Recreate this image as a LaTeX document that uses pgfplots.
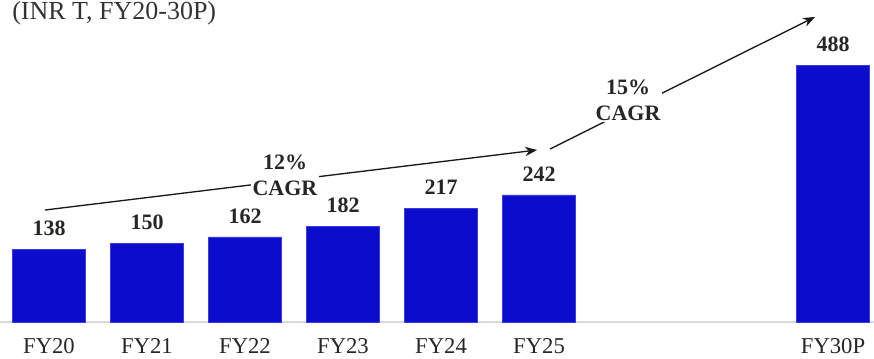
\documentclass[border=0pt]{standalone}
\usepackage{fontspec}
\setmainfont{Liberation Serif}
\usepackage{pgfplots}
\pgfplotsset{compat=1.18}
\usetikzlibrary{arrows.meta}
\definecolor{barblue}{RGB}{12,12,204}
\definecolor{baredge}{RGB}{60,60,225}
\definecolor{axisgray}{RGB}{218,218,218}
\begin{document}
\begin{tikzpicture}
\useasboundingbox (0,-27pt) rectangle (655.5pt,241.5pt);
\begin{axis}[
  at={(0,0)}, anchor=south west,
  scale only axis, width=655.5pt, height=241.5pt,
  xmin=-0.5, xmax=8.418, ymin=0, ymax=613.3,
  clip=false,
  ybar, bar width=54.75pt,
  axis y line=none,
  axis x line*=bottom,
  x axis line style={draw=axisgray, line width=1pt, -},
  major tick length=0pt,
  xtick={0,1,2,3,4,5,8},
  xticklabels={FY20,FY21,FY22,FY23,FY24,FY25,FY30P},
  xticklabel style={anchor=base, yshift=-23.5pt, font=\fontsize{17}{20}\selectfont, text=black!85},
  nodes near coords={\pgfmathprintnumber[assume math mode=true]{\pgfplotspointmeta}},
  nodes near coords style={font=\bfseries\fontsize{16.5}{20}\selectfont, anchor=south, inner sep=0pt, yshift=10pt, text=black!85},
]
\addplot[fill=barblue, draw=baredge, line width=0.6pt] coordinates {
  (0,138) (1,150) (2,162) (3,182) (4,217) (5,242) (8,488)
};
% CAGR arrows
\draw[line width=1pt, black!90, -{Stealth[length=9pt,width=7pt]}]
  (axis cs:-0.041,213.3) -- (axis cs:4.98,327.6);
\node[fill=white, inner sep=1pt, align=center, font=\bfseries\fontsize{16.5}{19.5}\selectfont, text=black!85]
  at (axis cs:2.408,279) {12\%\\CAGR};
\draw[line width=1pt, black!90, -{Stealth[length=9pt,width=7pt]}]
  (axis cs:5.112,329.5) -- (axis cs:7.816,581);
\node[fill=white, inner sep=1pt, align=center, font=\bfseries\fontsize{16.5}{19.5}\selectfont, text=black!85]
  at (axis cs:5.908,422.9) {15\%\\CAGR};
\end{axis}
\node[anchor=base west, inner sep=0pt, font=\fontsize{19.5}{22}\selectfont, text=black!80] at (9pt,227pt) {(INR T, FY20-30P)};
\end{tikzpicture}
\end{document}
